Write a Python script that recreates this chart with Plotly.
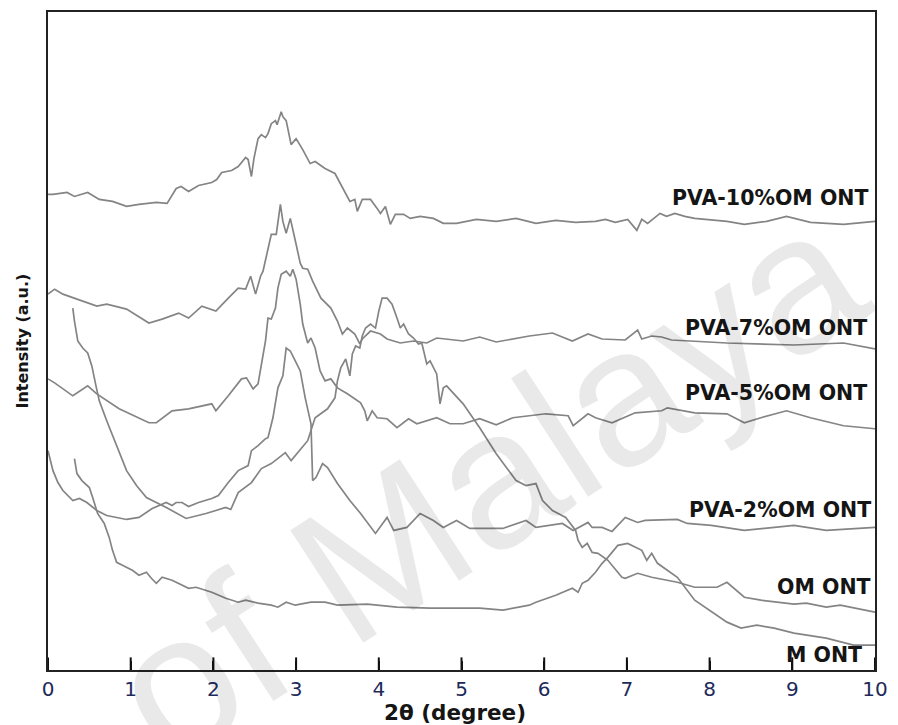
import plotly.graph_objects as go

# ---- data (2theta in degree, intensity in a.u.) ----
pva10_x = [0.00, 0.06, 0.23, 0.32, 0.48, 0.62, 0.78, 0.95, 1.10, 1.31, 1.44, 1.55, 1.61, 1.70, 1.82, 1.98, 2.04, 2.10, 2.22, 2.30, 2.39, 2.42, 2.46, 2.49, 2.54, 2.58, 2.63, 2.66, 2.70, 2.75, 2.77, 2.82, 2.84, 2.88, 2.94, 3.00, 3.08, 3.17, 3.23, 3.35, 3.47, 3.59, 3.65, 3.71, 3.74, 3.80, 3.90, 3.98, 4.02, 4.08, 4.14, 4.20, 4.30, 4.38, 4.50, 4.66, 4.78, 4.94, 5.18, 5.42, 5.66, 5.90, 6.14, 6.38, 6.62, 6.74, 6.86, 7.01, 7.12, 7.18, 7.25, 7.40, 7.48, 7.58, 7.70, 7.82, 8.21, 8.42, 8.69, 8.93, 9.22, 9.62, 10.0]
pva10_y = [477, 477, 479, 475, 479, 472, 470, 465, 467, 469, 468, 483, 485, 480, 486, 489, 492, 499, 501, 505, 514, 512, 495, 513, 533, 537, 534, 538, 548, 551, 547, 560, 555, 551, 527, 533, 522, 508, 510, 503, 498, 480, 470, 472, 460, 472, 472, 463, 458, 465, 447, 457, 457, 453, 455, 453, 448, 448, 452, 450, 453, 448, 451, 449, 450, 452, 449, 452, 441, 452, 448, 458, 455, 458, 455, 453, 450, 447, 450, 455, 449, 447, 450]

pva7_x = [0.00, 0.08, 0.18, 0.59, 0.71, 0.95, 1.22, 1.38, 1.58, 1.70, 1.86, 2.03, 2.18, 2.30, 2.39, 2.45, 2.51, 2.57, 2.60, 2.66, 2.70, 2.76, 2.81, 2.84, 2.88, 2.93, 2.96, 3.00, 3.05, 3.08, 3.14, 3.20, 3.30, 3.42, 3.50, 3.56, 3.62, 3.71, 3.77, 3.80, 3.90, 4.02, 4.10, 4.26, 4.42, 4.58, 4.70, 5.02, 5.22, 5.42, 5.82, 6.10, 6.34, 6.53, 6.70, 6.98, 7.13, 7.18, 7.30, 7.42, 7.54, 8.21, 9.02, 9.62, 10.0]
pva7_y = [377, 382, 377, 365, 367, 362, 348, 352, 358, 353, 365, 360, 373, 383, 382, 395, 377, 395, 400, 422, 437, 437, 467, 450, 438, 453, 443, 427, 408, 403, 402, 390, 373, 363, 350, 337, 343, 337, 327, 332, 340, 337, 332, 328, 330, 328, 333, 330, 334, 329, 335, 338, 330, 337, 332, 331, 341, 332, 335, 334, 331, 328, 326, 328, 322]

pva5_x = [0.00, 0.08, 0.30, 0.48, 0.59, 0.86, 1.22, 1.31, 1.50, 1.70, 1.98, 2.03, 2.18, 2.34, 2.40, 2.48, 2.54, 2.58, 2.63, 2.66, 2.70, 2.75, 2.78, 2.82, 2.88, 2.93, 2.96, 3.00, 3.05, 3.08, 3.14, 3.18, 3.23, 3.29, 3.35, 3.42, 3.50, 3.62, 3.78, 3.83, 3.86, 3.92, 3.98, 4.10, 4.22, 4.36, 4.46, 4.70, 4.86, 5.02, 5.22, 5.42, 5.62, 6.02, 6.29, 6.35, 6.53, 6.62, 6.82, 7.10, 7.42, 7.49, 7.82, 8.21, 8.42, 8.62, 8.93, 9.22, 9.62, 10.0]
pva5_y = [292, 288, 275, 285, 277, 262, 248, 248, 260, 262, 267, 260, 275, 292, 293, 282, 287, 307, 330, 353, 352, 363, 383, 397, 400, 395, 402, 392, 367, 347, 328, 333, 323, 300, 290, 292, 283, 277, 268, 260, 250, 260, 253, 252, 243, 252, 247, 253, 247, 247, 252, 246, 253, 257, 255, 245, 257, 253, 248, 258, 260, 263, 258, 257, 248, 253, 260, 253, 245, 242]

pva2_x = [0.00, 0.06, 0.12, 0.18, 0.30, 0.38, 0.47, 0.59, 0.71, 0.95, 1.10, 1.26, 1.43, 1.50, 1.55, 1.62, 1.70, 1.82, 1.98, 2.06, 2.18, 2.30, 2.42, 2.46, 2.54, 2.63, 2.66, 2.72, 2.78, 2.82, 2.84, 2.88, 2.93, 2.99, 3.05, 3.11, 3.14, 3.18, 3.20, 3.24, 3.32, 3.38, 3.50, 3.65, 3.78, 3.86, 3.96, 4.10, 4.18, 4.34, 4.50, 4.66, 4.78, 4.94, 5.10, 5.50, 5.78, 5.90, 6.22, 6.35, 6.53, 6.58, 6.70, 6.82, 6.98, 7.13, 7.22, 7.61, 7.73, 8.02, 8.42, 9.02, 9.41, 10.0]
pva2_y = [220, 200, 188, 180, 170, 172, 168, 160, 155, 151, 153, 162, 168, 165, 168, 168, 164, 168, 172, 175, 188, 200, 205, 220, 225, 232, 233, 253, 283, 290, 295, 323, 320, 310, 300, 273, 263, 247, 190, 193, 207, 203, 187, 170, 157, 148, 137, 153, 140, 143, 157, 150, 143, 150, 142, 142, 150, 143, 147, 140, 148, 143, 143, 139, 153, 148, 150, 151, 147, 145, 140, 145, 140, 143]

om_x = [0.30, 0.32, 0.36, 0.42, 0.48, 0.53, 0.58, 0.62, 0.71, 0.78, 0.86, 0.95, 1.07, 1.19, 1.43, 1.67, 1.91, 2.15, 2.21, 2.30, 2.46, 2.58, 2.70, 2.87, 2.94, 3.06, 3.14, 3.23, 3.38, 3.47, 3.50, 3.54, 3.60, 3.65, 3.68, 3.72, 3.77, 3.80, 3.84, 3.90, 3.96, 4.00, 4.04, 4.10, 4.16, 4.22, 4.26, 4.30, 4.36, 4.42, 4.48, 4.52, 4.58, 4.62, 4.70, 4.74, 4.78, 4.82, 5.02, 5.22, 5.42, 5.66, 5.78, 5.90, 5.98, 6.10, 6.26, 6.38, 6.41, 6.46, 6.52, 6.58, 6.65, 6.77, 6.94, 6.98, 7.13, 7.30, 7.61, 7.82, 8.09, 8.21, 8.42, 8.62, 9.02, 9.17, 9.41, 9.58, 10.0]
om_y = [363, 350, 330, 323, 318, 305, 285, 270, 250, 235, 218, 200, 185, 173, 163, 152, 157, 163, 161, 178, 188, 202, 207, 218, 210, 222, 230, 253, 262, 273, 290, 303, 312, 295, 317, 325, 323, 335, 343, 347, 343, 360, 373, 373, 367, 353, 343, 347, 337, 333, 327, 328, 307, 310, 297, 267, 283, 285, 267, 243, 217, 190, 185, 187, 170, 160, 153, 140, 130, 123, 127, 118, 117, 110, 93, 92, 97, 93, 88, 83, 83, 88, 73, 70, 66, 67, 63, 65, 58]

m_x = [0.32, 0.35, 0.41, 0.50, 0.54, 0.60, 0.68, 0.74, 0.78, 0.83, 0.90, 1.02, 1.10, 1.19, 1.25, 1.31, 1.38, 1.50, 1.70, 1.79, 1.98, 2.15, 2.30, 2.39, 2.54, 2.70, 2.78, 2.88, 2.99, 3.18, 3.35, 3.50, 3.86, 4.22, 4.62, 5.02, 5.22, 5.50, 5.82, 5.90, 6.14, 6.34, 6.41, 6.46, 6.53, 6.62, 6.70, 6.77, 6.89, 7.01, 7.10, 7.18, 7.24, 7.30, 7.37, 7.54, 7.61, 7.82, 8.02, 8.21, 8.38, 8.57, 8.78, 9.02, 9.41, 9.74, 10.0]
m_y = [212, 197, 190, 183, 173, 157, 147, 133, 120, 108, 105, 100, 95, 98, 92, 87, 93, 90, 82, 83, 78, 72, 68, 70, 67, 65, 63, 68, 65, 68, 68, 65, 66, 63, 62, 62, 62, 60, 65, 68, 75, 82, 78, 87, 90, 98, 107, 113, 125, 127, 123, 120, 110, 117, 107, 97, 93, 70, 59, 48, 42, 45, 42, 37, 32, 25, 25]

series = [
    ("PVA-10%OM ONT", pva10_x, pva10_y, 9.94, 473),
    ("PVA-7%OM ONT", pva7_x, pva7_y, 9.93, 343),
    ("PVA-5%OM ONT", pva5_x, pva5_y, 9.93, 278),
    ("PVA-2%OM ONT", pva2_x, pva2_y, 9.97, 160),
    ("OM ONT", om_x, om_y, 9.97, 83),
    ("M ONT", m_x, m_y, 9.87, 15),
]

x_ticks = [0, 1, 2, 3, 4, 5, 6, 7, 8, 9, 10]

fig = go.Figure()

# watermark (behind the curves)
fig.add_annotation(x=0.53, y=0.285, xref="paper", yref="paper", text="of Malaya",
                   showarrow=False, textangle=-33, xanchor="center", yanchor="middle",
                   font=dict(family="Liberation Sans", size=195, color="rgba(0,0,0,0.085)"))

for name, xs, ys, lx, ly in series:
    fig.add_trace(go.Scatter(x=xs, y=ys, mode="lines", name=name,
                             line=dict(color="#848484", width=1.7),
                             showlegend=False, hoverinfo="skip"))

# inside tick marks on the bottom axis
fig.add_trace(go.Scatter(x=x_ticks, y=[0] * len(x_ticks), mode="markers",
                         marker=dict(symbol="line-ns", size=18,
                                     line=dict(color="#111", width=2)),
                         cliponaxis=True, showlegend=False, hoverinfo="skip"))

for name, xs, ys, lx, ly in series:
    fig.add_annotation(x=lx, y=ly, xref="x", yref="y", text="<b>%s</b>" % name,
                       showarrow=False, xanchor="right", yanchor="middle",
                       font=dict(family="DejaVu Sans", size=20.5, color="#151515"))

# axis titles
fig.add_annotation(x=0.4916, y=0, xref="paper", yref="paper", yshift=-42,
                   text="<b>2θ (degree)</b>", showarrow=False,
                   xanchor="center", yanchor="middle",
                   font=dict(family="DejaVu Sans", size=21.5, color="#151515"))
fig.add_annotation(x=0, y=0.5, xref="paper", yref="paper", xshift=-15,
                   text="<b>Intensity (a.u.)</b>", showarrow=False, textangle=-90,
                   xanchor="right", yanchor="middle",
                   font=dict(family="DejaVu Sans", size=16, color="#151515"))

fig.update_layout(
    width=898, height=725,
    margin=dict(l=48, r=16, t=10, b=55),
    paper_bgcolor="white", plot_bgcolor="white",
    xaxis=dict(range=[0, 10], tickvals=x_ticks, ticktext=[str(t) for t in x_ticks],
               ticks="inside", ticklen=9, tickwidth=2, tickcolor="#111",
               showline=True, linecolor="#222", linewidth=2, mirror=True,
               showgrid=False, zeroline=False,
               tickfont=dict(family="DejaVu Sans", size=20, color="#1e2a5a")),
    yaxis=dict(range=[0, 660], showticklabels=False, ticks="",
               showline=True, linecolor="#222", linewidth=2, mirror=True,
               showgrid=False, zeroline=False),
)

fig.write_html("out.html")
